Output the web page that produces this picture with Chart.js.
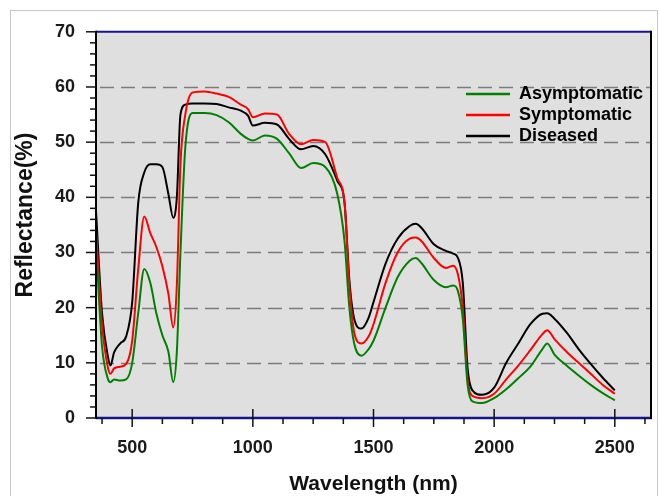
<!DOCTYPE html>
<html>
<head>
<meta charset="utf-8">
<title>Reflectance spectra</title>
<script src="https://cdn.jsdelivr.net/npm/chart.js@4.4.1/dist/chart.umd.min.js"></script>
<style>
  html, body { margin: 0; padding: 0; background: #fff; }
  #chart { display: block; }
</style>
</head>
<body>
<canvas id="chart" width="660" height="496"></canvas>
<script>
// values
const wavelengths = [350, 375, 400, 410, 425, 450, 475, 500, 525, 550, 575, 600, 625, 650, 670, 685,
  700, 720, 750, 800, 850, 900, 950, 980, 1000, 1050, 1100, 1150, 1200, 1250, 1300, 1350,
  1380, 1400, 1420, 1450, 1480, 1500, 1550, 1600, 1650, 1675, 1700, 1750, 1800, 1830, 1850, 1870,
  1890, 1910, 1950, 2000, 2050, 2100, 2150, 2200, 2220, 2250, 2300, 2350, 2400, 2450, 2500];

const asymptomatic = [31.5, 13, 7, 6.5, 7, 6.8, 7, 10, 19, 27, 24.5, 19, 15, 12, 6.5, 12,
  30, 49, 55.3, 55.3, 54.9, 53.6, 51.5, 50.6, 50.3, 51.2, 50.6, 48, 45.3, 46.2, 45.5, 40.6,
  32, 20, 13.5, 11.3, 12.5, 14, 20, 25.5, 28.5, 29, 28, 25, 23.7, 24, 23, 18,
  6, 3, 2.7, 3.6, 5.2, 7.2, 9.3, 12.5, 13.5, 11.5, 9.5, 7.7, 6, 4.5, 3.2];

const symptomatic = [34, 17, 9, 8, 9, 9.3, 9.8, 14, 27, 36.5, 33.5, 31, 27.5, 22.5, 16.4, 24,
  46, 55, 59, 59.2, 58.8, 58.2, 56.8, 56, 54.5, 55.2, 55, 51.5, 49.6, 50.4, 50, 43.5,
  39, 24, 15.5, 13.5, 14.8, 17, 24.5, 30, 32.5, 32.7, 32, 29, 27.2, 27.6, 26, 20,
  7, 4, 3.6, 4.4, 7, 9.5, 12.3, 15.2, 15.9, 14.3, 12, 10, 8, 6, 4.4];

const diseased = [37.5, 19, 11, 9.5, 11.9, 13.5, 14.8, 21, 39, 44.5, 46, 46, 45.5, 40.6, 36.3, 40,
  55, 56.8, 57, 57, 56.9, 56.3, 55.7, 54.8, 53, 53.5, 53.2, 50.6, 48.7, 49.3, 47.8, 43,
  39, 25, 18, 16.2, 18.2, 21, 28, 32.5, 34.8, 35.2, 34.4, 31.5, 30.3, 29.8, 29, 24.5,
  9, 5, 4.2, 5.5, 10, 13.5, 17, 18.9, 19, 18, 15.5, 12.5, 9.8, 7.3, 5];

const seriesNames = ["Asymptomatic", "Symptomatic", "Diseased"];
const seriesColors = ["#008000", "#ff0000", "#000000"];

const xTicks = [500, 1000, 1500, 2000, 2500];
const yTicks = [0, 10, 20, 30, 40, 50, 60, 70];

const FONT = "'Liberation Sans', Arial, Helvetica, sans-serif";

function points(values) {
  return wavelengths.map((w, i) => ({ x: w, y: values[i] }));
}

// background, dashed grid, axes, ticks, legend and titles
const frame = {
  id: "frame",
  beforeDraw(chart) {
    const { ctx, chartArea: a } = chart;
    const y = chart.scales.y;
    ctx.save();
    ctx.fillStyle = "#fff";
    ctx.fillRect(0, 0, chart.width, chart.height);
    ctx.strokeStyle = "#c8c8c8";
    ctx.lineWidth = 1;
    ctx.strokeRect(10.5, 10.5, 647, 500);
    ctx.fillStyle = "#dfdfdf";
    ctx.fillRect(a.left, a.top, a.right - a.left, a.bottom - a.top);

    ctx.strokeStyle = "#7c7c7c";
    ctx.lineWidth = 1.5;
    ctx.setLineDash([14, 7]);
    yTicks.forEach(v => {
      if (v === y.min || v === y.max) return;
      const py = Math.round(y.getPixelForValue(v)) + 0.5;
      ctx.beginPath();
      ctx.moveTo(a.left + 4, py);
      ctx.lineTo(a.right, py);
      ctx.stroke();
    });
    ctx.restore();
  },
  afterDatasetsDraw(chart) {
    const { ctx, chartArea: a } = chart;
    const x = chart.scales.x, y = chart.scales.y;
    ctx.save();

    // frame lines
    ctx.lineWidth = 2;
    ctx.strokeStyle = "#14148c";
    ctx.beginPath(); ctx.moveTo(a.left, a.top); ctx.lineTo(a.right, a.top); ctx.stroke();
    ctx.lineWidth = 2.5;
    ctx.beginPath(); ctx.moveTo(a.left, a.bottom); ctx.lineTo(a.right + 1, a.bottom); ctx.stroke();
    ctx.lineWidth = 2;
    ctx.strokeStyle = "#000";
    ctx.beginPath(); ctx.moveTo(a.left, a.top - 1); ctx.lineTo(a.left, a.bottom + 1); ctx.stroke();
    ctx.beginPath(); ctx.moveTo(a.right, a.top - 1); ctx.lineTo(a.right, a.bottom + 1); ctx.stroke();

    // y ticks: major every 10, minor every 2
    ctx.lineWidth = 1.5;
    ctx.strokeStyle = "#111";
    for (let v = y.min; v <= y.max; v += 2) {
      const py = y.getPixelForValue(v);
      const len = v % 10 === 0 ? 10 : 6;
      ctx.beginPath(); ctx.moveTo(a.left - len, py); ctx.lineTo(a.left, py); ctx.stroke();
    }
    // x ticks: major every 500, minor every 125
    for (let v = 375; v < x.max; v += 125) {
      const px = x.getPixelForValue(v);
      ctx.beginPath();
      if (v % 500 === 0) { ctx.moveTo(px, a.bottom - 9); ctx.lineTo(px, a.bottom + 9); }
      else { ctx.moveTo(px, a.bottom); ctx.lineTo(px, a.bottom + 6); }
      ctx.stroke();
    }

    // legend
    ctx.font = "bold 18px " + FONT;
    ctx.textBaseline = "middle";
    ctx.textAlign = "left";
    seriesNames.forEach((name, i) => {
      const ly = 94 + i * 21;
      ctx.strokeStyle = seriesColors[i];
      ctx.lineWidth = 2.5;
      ctx.beginPath(); ctx.moveTo(466, ly); ctx.lineTo(510, ly); ctx.stroke();
      ctx.fillStyle = "#000";
      ctx.fillText(name, 519, ly);
    });

    // axis titles
    ctx.fillStyle = "#111";
    ctx.textAlign = "center";
    ctx.font = "bold 21px " + FONT;
    ctx.fillText("Wavelength (nm)", (a.left + a.right) / 2, 484);
    ctx.translate(26, 215);
    ctx.rotate(-Math.PI / 2);
    ctx.font = "bold 23px " + FONT;
    ctx.fillText("Reflectance(%)", 0, 0);
    ctx.restore();
  }
};

new Chart(document.getElementById("chart"), {
  type: "line",
  data: {
    datasets: [
      { label: seriesNames[0], data: points(asymptomatic), borderColor: seriesColors[0] },
      { label: seriesNames[1], data: points(symptomatic), borderColor: seriesColors[1] },
      { label: seriesNames[2], data: points(diseased), borderColor: seriesColors[2] }
    ]
  },
  options: {
    responsive: false,
    animation: false,
    devicePixelRatio: 1,
    parsing: false,
    elements: {
      line: { borderWidth: 2, cubicInterpolationMode: "monotone", fill: false },
      point: { radius: 0 }
    },
    layout: { padding: { top: 30, right: 9, left: 0, bottom: 0 } },
    plugins: { legend: { display: false }, tooltip: { enabled: false } },
    scales: {
      x: {
        type: "linear",
        min: 350,
        max: 2650,
        afterFit(s) { s.height = 78; },
        afterBuildTicks(s) { s.ticks = xTicks.map(v => ({ value: v })); },
        grid: { display: false, drawTicks: false },
        border: { display: false },
        ticks: {
          padding: 19, maxRotation: 0, color: "#1a1a1a",
          font: { family: FONT, size: 18, weight: "bold" },
          callback: v => String(v)
        }
      },
      y: {
        type: "linear",
        min: 0,
        max: 70,
        afterFit(s) { s.width = 96; },
        afterBuildTicks(s) { s.ticks = yTicks.map(v => ({ value: v })); },
        grid: { display: false, drawTicks: false },
        border: { display: false },
        ticks: {
          padding: 21, color: "#1a1a1a",
          font: { family: FONT, size: 18, weight: "bold" },
          callback: v => String(v)
        }
      }
    }
  },
  plugins: [frame]
});
</script>
</body>
</html>
